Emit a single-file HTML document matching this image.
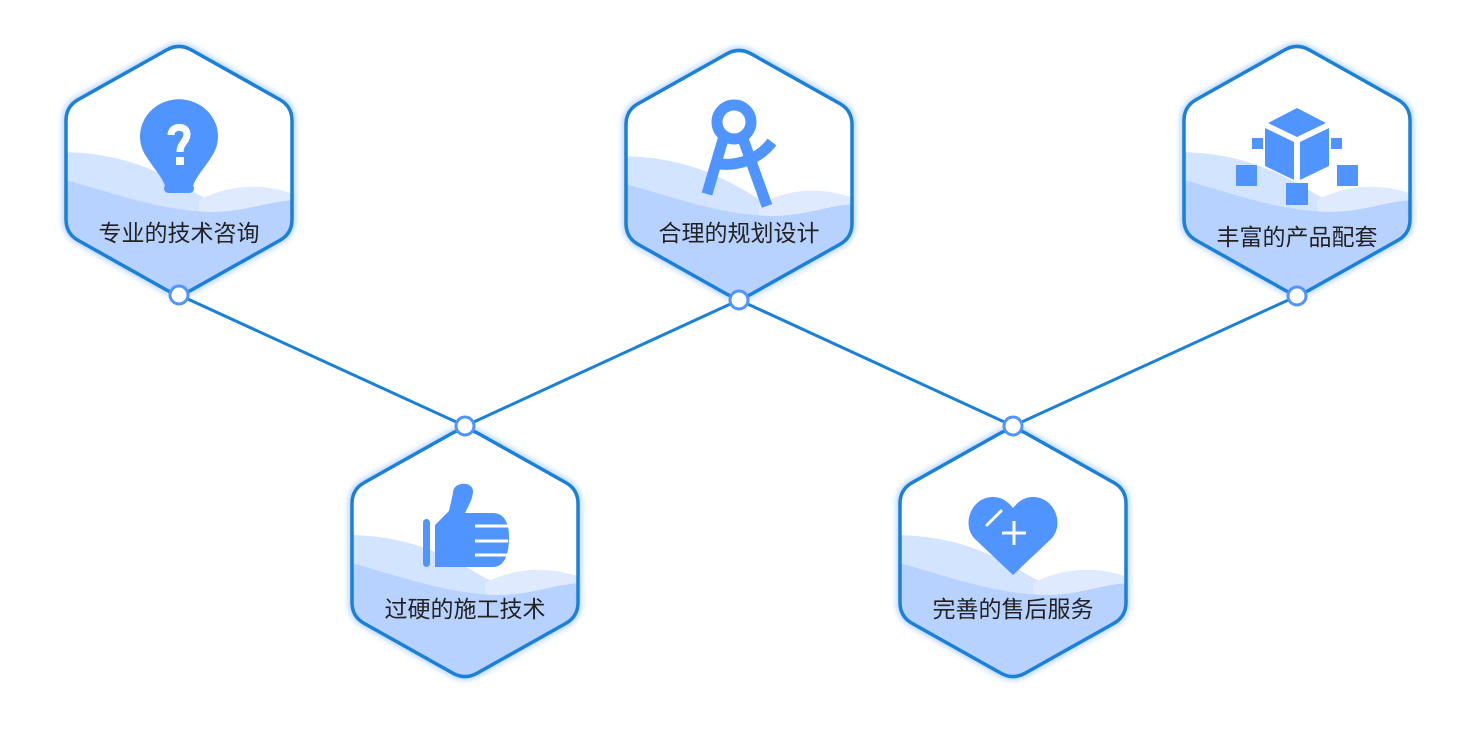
<!DOCTYPE html>
<html><head><meta charset="utf-8"><style>
html,body{margin:0;padding:0;background:#fff;}
svg{display:block;}
text{font-family:"Liberation Sans","Noto Sans CJK SC",sans-serif;font-size:23px;fill:#222;}
</style></head><body>
<svg width="1477" height="729" viewBox="0 0 1477 729" xmlns="http://www.w3.org/2000/svg">
<defs>
<path id="hx" d="M -12.2,-120.1 Q 0,-127 12.2,-120.1 L 100.8,-70.4 Q 113,-63.5 113,-49.5 L 113,49.5 Q 113,63.5 100.8,70.4 L 12.2,120.1 Q 0,127 -12.2,120.1 L -100.8,70.4 Q -113,63.5 -113,49.5 L -113,-49.5 Q -113,-63.5 -100.8,-70.4 Z"/>
<clipPath id="cp"><use href="#hx"/></clipPath>
<filter id="gl" x="-20%" y="-20%" width="140%" height="140%"><feGaussianBlur stdDeviation="3"/></filter>
<g id="hex">
  <use href="#hx" fill="none" stroke="#7fb4ff" stroke-width="7" opacity="0.6" filter="url(#gl)"/>
  <use href="#hx" fill="#fff"/>
  <g clip-path="url(#cp)">
    <path d="M -120,-18 C -60,-18 -20,0 20,25 C 50,40 80,38 120,30 L120,130 L-120,130Z" fill="#d2e4ff"/>
    <path d="M 20,30 C 55,12 90,14 120,26 L120,130 L20,130Z" fill="#dfeaff"/>
    <path d="M -120,8 C -60,25 -20,40 30,42 C 70,42 90,30 120,30 L120,130 L -120,130 Z" fill="#b8d2ff"/>
  </g>
  <use href="#hx" fill="none" stroke="#1a80d8" stroke-width="3.5"/>
</g>
</defs>

<polyline points="179,295 465,426 739,300 1013,426 1297,296" fill="none" stroke="#1a80d8" stroke-width="3"/>

<g transform="translate(179,170)">
  <use href="#hex"/>
  <path d="M -39,-33 A 39 39 0 1 1 32,-10 C 25,2 17,10 14,20 L -14,20 C -17,10 -25,2 -32,-10 A 39 39 0 0 1 -39,-33 Z" fill="#5094ff" transform="translate(0,-3) scale(1,0.95)"/>
  <rect x="-15" y="14" width="30" height="9" rx="4.5" fill="#5094ff"/>
  <path d="M -8,-35 C -8,-45 8,-45 8,-36 C 8,-28 1,-27 1,-18" stroke="#fff" stroke-width="7" fill="none"/>
  <rect x="-3" y="-13" width="8" height="8" fill="#fff"/>
  <text x="0" y="71" text-anchor="middle">专业的技术咨询</text>
</g>

<g transform="translate(739,174)">
  <use href="#hex"/>
  <circle cx="-5" cy="-52" r="17" fill="none" stroke="#5094ff" stroke-width="11"/>
  <path d="M -15,-38 L -32,20" stroke="#5094ff" stroke-width="11"/>
  <path d="M 3,-38 L 28,32" stroke="#5094ff" stroke-width="11"/>
  <path d="M -20,-10 C 0,-8 20,-15 33,-32" stroke="#5094ff" stroke-width="11" fill="none"/>
  <text x="0" y="67" text-anchor="middle">合理的规划设计</text>
</g>

<g transform="translate(1297,170)">
  <use href="#hex"/>
  <path d="M 0,-62 L 29,-47 L 0,-33 L -29,-47 Z" fill="#5094ff"/>
  <path d="M -32,-42 L -3,-28 L -3,10 L -32,-4 Z" fill="#5094ff"/>
  <path d="M 32,-42 L 3,-28 L 3,10 L 32,-4 Z" fill="#5094ff"/>
  <rect x="-45" y="-32" width="11" height="11" fill="#5094ff"/>
  <rect x="34" y="-32" width="11" height="11" fill="#5094ff"/>
  <rect x="-61" y="-5" width="21" height="21" fill="#5094ff"/>
  <rect x="40" y="-5" width="21" height="21" fill="#5094ff"/>
  <rect x="-11" y="13" width="22" height="22" fill="#5094ff"/>
  <text x="0" y="75" text-anchor="middle">丰富的产品配套</text>
</g>

<g transform="translate(465,553)">
  <use href="#hex"/>
  <rect x="-42" y="-34" width="7" height="48" rx="3.5" fill="#5094ff"/>
  <path d="M -30,-28 L -16,-42 L -12,-60 C -12,-72 8,-72 8,-62 C 8,-55 4,-48 0,-40 L 28,-40 C 38,-40 44,-32 44,-16 C 44,4 38,14 28,14 L -30,14 Z" fill="#5094ff"/>
  <path d="M 10,-27 L 43,-27 M 10,-12 L 43,-12 M 10,2 L 43,2" stroke="#fff" stroke-width="3"/>
  <text x="0" y="64" text-anchor="middle">过硬的施工技术</text>
</g>

<g transform="translate(1013,553)">
  <use href="#hex"/>
  <path d="M 0,22 L -38,-14 C -52,-28 -42,-56 -20,-56 C -10,-56 -4,-50 0,-45 C 4,-50 10,-56 20,-56 C 42,-56 52,-28 38,-14 Z" fill="#5094ff"/>
  <path d="M -26,-28 L -12,-42" stroke="#fff" stroke-width="3" stroke-linecap="round"/>
  <path d="M 1,-32 L 1,-8 M -11,-20 L 13,-20" stroke="#fff" stroke-width="3"/>
  <text x="0" y="64" text-anchor="middle">完善的售后服务</text>
</g>

<g fill="#fff" stroke="#5094ff" stroke-width="3">
  <circle cx="179" cy="295" r="9"/>
  <circle cx="739" cy="300" r="9"/>
  <circle cx="1297" cy="296" r="9"/>
  <circle cx="465" cy="426" r="9"/>
  <circle cx="1013" cy="426" r="9"/>
</g>
</svg>
</body></html>
